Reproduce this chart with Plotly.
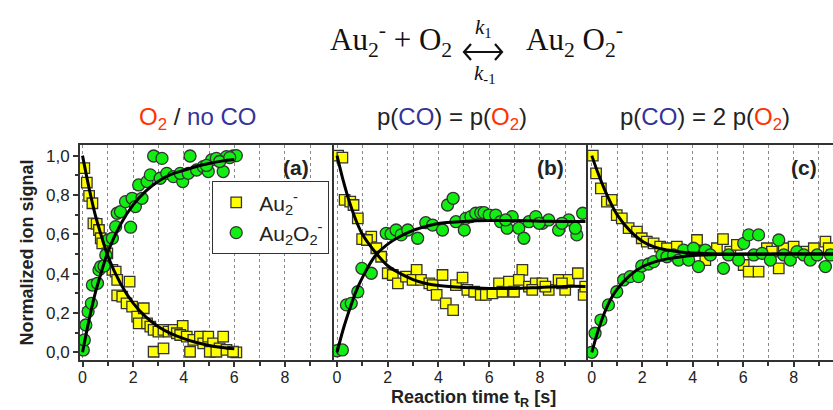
import plotly.graph_objects as go

# ---------------- data ----------------
# Panel (a): O2 / no CO
a_au2_x = [0.07,0.17,0.26,0.39,0.43,0.56,0.65,0.72,0.78,0.98,1.18,1.31,1.37,1.37,1.57,1.86,1.74,1.96,2.16,2.42,2.22,2.55,2.68,2.81,3.0,3.2,3.4,3.6,2.81,3.2,3.96,3.73,3.86,4.12,4.25,4.38,4.64,4.77,4.97,5.16,5.42,5.56,5.03,5.29,5.69,6.08,5.95]
a_au2_y = [0.936,0.863,0.795,0.758,0.656,0.653,0.622,0.58,0.554,0.503,0.419,0.41,0.368,0.29,0.283,0.359,0.249,0.232,0.181,0.224,0.147,0.147,0.131,0.114,0.105,0.114,0.105,0.114,0.003,0.02,0.134,0.097,0.088,0.08,0.003,0.063,0.08,0.046,0.08,0.046,0.02,0.08,0.003,0.003,0.012,0.0,0.003]
a_au2o2_x = [0.03,0.07,0.13,0.22,0.35,0.39,0.59,0.65,0.72,0.85,0.92,1.01,1.18,1.31,1.37,1.5,1.7,1.9,1.96,2.09,2.22,2.35,2.55,2.68,2.81,3.14,3.07,3.33,3.59,3.96,3.86,4.25,4.18,4.51,4.77,4.97,5.1,5.29,5.56,5.69,5.95,6.08,4.9,5.42,5.82]
a_au2o2_y = [0.012,0.063,0.139,0.207,0.249,0.342,0.351,0.419,0.436,0.439,0.495,0.571,0.58,0.639,0.707,0.715,0.766,0.636,0.783,0.741,0.851,0.783,0.868,0.902,0.998,0.986,0.885,0.91,0.893,0.868,0.91,0.998,0.91,0.927,0.944,0.919,0.978,0.986,0.919,0.995,0.998,1.0,0.95,0.97,0.99]
a_fit_x = [0,0.25,0.5,0.75,1.0,1.5,2.0,2.5,3.0,3.5,4.0,4.5,5.0,5.5,6.0]
a_fit_au2 = [1.0,0.84,0.70,0.59,0.49,0.35,0.25,0.18,0.13,0.095,0.07,0.05,0.035,0.025,0.018]
a_fit_au2o2 = [0.0,0.16,0.30,0.41,0.51,0.65,0.75,0.82,0.87,0.905,0.925,0.945,0.96,0.972,0.98]

# Panel (b): p(CO) = p(O2)
b_au2_x = [0.04,0.21,0.30,0.52,0.65,0.82,0.99,1.35,1.18,1.55,1.74,2.0,2.2,2.4,2.72,3.14,2.98,3.31,3.64,3.77,4.16,3.93,4.29,4.58,4.69,4.95,5.14,5.41,5.67,5.87,6.13,6.39,6.52,6.78,6.98,7.31,7.17,7.57,7.84,8.1,8.35,8.74,9.0,9.14,9.5,9.73,9.79,7.7,8.22,8.87]
b_au2_y = [1.0,0.99,0.775,0.766,0.749,0.681,0.576,0.588,0.571,0.529,0.486,0.402,0.393,0.351,0.385,0.419,0.368,0.368,0.351,0.342,0.393,0.292,0.249,0.215,0.342,0.38,0.317,0.308,0.292,0.292,0.3,0.351,0.308,0.359,0.308,0.419,0.368,0.334,0.351,0.351,0.317,0.368,0.317,0.368,0.402,0.292,0.334,0.317,0.334,0.351]
b_au2o2_x = [0.0,0.21,0.37,0.56,0.82,0.98,1.35,1.94,2.13,2.33,2.53,2.79,3.18,3.5,3.77,4.16,4.36,4.58,4.69,5.02,5.08,5.28,5.47,5.67,5.8,6.0,6.26,6.45,6.71,6.91,7.17,7.37,7.57,7.84,8.1,8.35,8.74,9.14,9.46,9.4,9.69,6.65,7.97,8.87]
b_au2o2_y = [0.008,0.012,0.241,0.249,0.308,0.427,0.402,0.605,0.602,0.622,0.597,0.622,0.58,0.659,0.647,0.622,0.749,0.783,0.664,0.622,0.681,0.69,0.707,0.71,0.71,0.698,0.698,0.664,0.631,0.69,0.631,0.58,0.664,0.69,0.656,0.673,0.622,0.673,0.597,0.631,0.707,0.673,0.656,0.656]
b_fit_x = [0,0.25,0.5,0.75,1.0,1.5,2.0,2.5,3.0,3.5,4.0,5.0,6.0,7.0,8.0,9.0,9.8]
b_fit_au2 = [1.0,0.87,0.76,0.67,0.60,0.51,0.44,0.40,0.37,0.35,0.34,0.33,0.325,0.325,0.33,0.335,0.335]
b_fit_au2o2 = [0.0,0.12,0.22,0.31,0.38,0.49,0.55,0.59,0.62,0.64,0.655,0.665,0.67,0.67,0.667,0.665,0.665]

# Panel (c): p(CO) = 2 p(O2)
c_au2_x = [0.04,0.17,0.36,0.6,0.79,0.99,1.19,1.46,1.79,1.98,2.18,2.45,2.71,2.98,3.37,3.77,4.17,4.5,4.96,5.2,5.49,5.75,6.02,6.22,6.61,6.94,7.14,7.41,7.61,8.0,8.4,8.8,9.26,9.39,9.52]
c_au2_y = [1.0,0.91,0.834,0.766,0.775,0.698,0.681,0.631,0.614,0.58,0.563,0.554,0.537,0.529,0.537,0.512,0.571,0.469,0.529,0.576,0.512,0.546,0.444,0.41,0.41,0.529,0.512,0.427,0.529,0.537,0.512,0.529,0.563,0.529,0.495]
c_au2o2_x = [0.0,0.13,0.36,0.66,0.99,1.26,1.52,1.85,1.98,2.25,2.45,2.78,2.98,3.24,3.44,3.64,3.84,4.03,4.23,4.5,4.7,5.22,5.42,5.82,6.02,6.22,6.61,6.42,6.75,7.08,7.41,7.61,7.87,8.13,8.4,8.66,8.93,9.26,9.46]
c_au2o2_y = [0.0,0.097,0.164,0.241,0.308,0.368,0.385,0.385,0.439,0.449,0.461,0.495,0.486,0.495,0.469,0.52,0.469,0.529,0.436,0.52,0.495,0.427,0.495,0.469,0.554,0.597,0.597,0.495,0.503,0.469,0.571,0.495,0.469,0.512,0.495,0.469,0.495,0.436,0.495]
c_fit_x = [0,0.25,0.5,0.75,1.0,1.5,2.0,2.5,3.0,3.5,4.0,5.0,6.0,7.0,8.0,9.0,9.6]
c_fit_au2 = [1.0,0.91,0.83,0.76,0.70,0.62,0.565,0.535,0.52,0.51,0.505,0.50,0.50,0.50,0.50,0.50,0.50]
c_fit_au2o2 = [0.0,0.11,0.20,0.27,0.32,0.39,0.435,0.46,0.475,0.485,0.492,0.497,0.498,0.499,0.5,0.5,0.5]

x_ticks = [0, 2, 4, 6, 8]
y_ticks = [0.0, 0.2, 0.4, 0.6, 0.8, 1.0]

# ---------------- styling ----------------
YELLOW = "#ffff00"
GREEN = "#11ee11"
EDGE = "#333333"
ORANGE = "#ff3300"
BLUE = "#333399"

W, H = 833, 410
ML, MR, MT, MB = 80, 0, 145, 50
PW = W - ML - MR
PH = H - MT - MB

def px(x):
    return (x - ML) / PW

def py(y):
    return (H - MB - y) / PH

fig = go.Figure()

panels = [
    ("x", "y", a_au2_x, a_au2_y, a_au2o2_x, a_au2o2_y, a_fit_x, a_fit_au2, a_fit_au2o2),
    ("x2", "y2", b_au2_x, b_au2_y, b_au2o2_x, b_au2o2_y, b_fit_x, b_fit_au2, b_fit_au2o2),
    ("x3", "y3", c_au2_x, c_au2_y, c_au2o2_x, c_au2o2_y, c_fit_x, c_fit_au2, c_fit_au2o2),
]

for i, (xa, ya, sx, sy, cx, cy, fx, f1, f2) in enumerate(panels):
    first = i == 0
    fig.add_trace(go.Scatter(
        x=sx, y=sy, mode="markers", xaxis=xa, yaxis=ya,
        name="Au<sub>2</sub><sup>-</sup>", showlegend=first, legendrank=1,
        marker=dict(symbol="square", size=10.5, color=YELLOW, line=dict(color=EDGE, width=1.3)),
    ))
    fig.add_trace(go.Scatter(
        x=cx, y=cy, mode="markers", xaxis=xa, yaxis=ya,
        name="Au<sub>2</sub>O<sub>2</sub><sup>-</sup>", showlegend=first, legendrank=2,
        marker=dict(symbol="circle", size=12, color=GREEN, line=dict(color=EDGE, width=1.3)),
    ))
    fig.add_trace(go.Scatter(
        x=fx, y=f1, mode="lines", xaxis=xa, yaxis=ya, showlegend=False,
        line=dict(color="black", width=3, shape="spline"),
    ))
    fig.add_trace(go.Scatter(
        x=fx, y=f2, mode="lines", xaxis=xa, yaxis=ya, showlegend=False,
        line=dict(color="black", width=3, shape="spline"),
    ))

doms = [(0, px(334)), (px(334), px(588)), (px(588), 1.0)]
xranges = [[-0.1, 9.94], [-0.12, 9.9], [-0.15, 9.56]]
yrange = [-0.039, 1.054]

xcommon = dict(
    showline=True, linecolor=EDGE, linewidth=2, mirror=True,
    showgrid=True, gridcolor="#888888", griddash="dot", gridwidth=1,
    tickvals=x_ticks, ticks="outside", ticklen=5, tickcolor=EDGE, tickwidth=1.5,
    tickfont=dict(family="Liberation Sans, Arial", size=16, color="#222222"),
    ticklabelstandoff=-3,
    zeroline=False,
    minor=dict(dtick=1, tick0=1, showgrid=True, gridcolor="#888888", griddash="dot",
               ticks="outside", ticklen=4, tickcolor=EDGE),
)
ycommon = dict(
    range=yrange, showline=True, linecolor=EDGE, linewidth=2, mirror=False,
    showgrid=False, zeroline=False,
)

layout = dict(
    width=W, height=H, margin=dict(l=ML, r=MR, t=MT, b=MB),
    plot_bgcolor="white", paper_bgcolor="white",
    separators=",.",
    font=dict(family="Liberation Sans, Arial", color="#222222"),
)
for i, key in enumerate(["", "2", "3"]):
    xa = dict(xcommon, domain=list(doms[i]), range=xranges[i])
    ya = dict(ycommon, domain=[0, 1])
    if i > 0:
        xa["anchor"] = "y" + key
        ya["anchor"] = "x" + key
        ya["showticklabels"] = False
        ya["ticks"] = ""
    else:
        ya.update(tickvals=y_ticks, tickformat=".1f", ticks="outside", ticklen=5,
                  tickcolor=EDGE, tickwidth=1.5,
                  tickfont=dict(family="Liberation Sans, Arial", size=17, color="#222222"),
                  minor=dict(dtick=0.1, tick0=0, ticks="outside", ticklen=3, tickcolor=EDGE),
                  title=dict(text="<b>Normalized ion signal</b>",
                             font=dict(family="Liberation Sans, Arial", size=18, color="#222222"),
                             standoff=8))
    layout["xaxis" + key] = xa
    layout["yaxis" + key] = ya

layout["legend"] = dict(
    x=px(212), y=py(181), xanchor="left", yanchor="top",
    bgcolor="white", bordercolor=EDGE, borderwidth=1.2,
    font=dict(family="Liberation Sans, Arial", size=21, color="#222222"),
    itemwidth=36, tracegroupgap=0,
)
fig.update_layout(**layout)

ann = []
# x axis title (shared)
ann.append(dict(text="<b>Reaction time t<sub>R</sub> [s]</b>", x=px(473), y=py(398),
                xref="paper", yref="paper", showarrow=False, xanchor="center", yanchor="middle",
                borderpad=0,
                font=dict(family="Liberation Sans, Arial", size=18, color="#222222")))
# panel labels
for lbl, xpx in [("(a)", 296), ("(b)", 550), ("(c)", 804)]:
    ann.append(dict(text="<b>%s</b>" % lbl, x=px(xpx), y=py(167), xref="paper", yref="paper",
                    showarrow=False, xanchor="center", yanchor="middle",
                    font=dict(family="Liberation Sans, Arial", size=21, color="#222222")))

serif = "Liberation Serif, Times New Roman, serif"
ann.append(dict(text="Au<sub>2</sub><sup>-</sup> + O<sub>2</sub>", x=px(454), y=py(40),
                xref="paper", yref="paper", showarrow=False, xanchor="right", yanchor="middle",
                font=dict(family=serif, size=31, color="#111111")))
ann.append(dict(text="Au<sub>2</sub> O<sub>2</sub><sup>-</sup>", x=px(524), y=py(40),
                xref="paper", yref="paper", showarrow=False, xanchor="left", yanchor="middle",
                font=dict(family=serif, size=31, color="#111111")))
ann.append(dict(text="<i>k</i><sub>1</sub>", x=px(483), y=py(28), xref="paper", yref="paper",
                showarrow=False, xanchor="center", yanchor="middle",
                font=dict(family=serif, size=21, color="#111111")))
ann.append(dict(text="<i>k</i><sub>-1</sub>", x=px(485), y=py(74), xref="paper", yref="paper",
                showarrow=False, xanchor="center", yanchor="middle",
                font=dict(family=serif, size=21, color="#111111")))

# double-headed reaction arrow (drawn)
ay = py(52)
arrow_path = "M {x0} {y} L {x1} {y} M {a1} {yt} L {x0} {y} L {a1} {yb} M {b1} {yt} L {x1} {y} L {b1} {yb}".format(
    x0=px(464), x1=px(502), y=ay, a1=px(471), b1=px(495), yt=py(44), yb=py(60))
fig.add_shape(type="path", path=arrow_path, xref="paper", yref="paper",
              line=dict(color="#111111", width=2.2))

sub_font = dict(family="Liberation Sans, Arial", size=24, color="#222222")
o2 = "<span style='color:%s'>O<sub>2</sub></span>" % ORANGE
co = "<span style='color:%s'>CO</span>" % BLUE
subs = [
    (o2 + " / <span style='color:%s'>no CO</span>" % BLUE, 197),
    ("p(" + co + ") = p(" + o2 + ")", 452),
    ("p(" + co + ") = 2 p(" + o2 + ")", 705),
]
for t, xc in subs:
    ann.append(dict(text=t, x=px(xc), y=py(118), xref="paper", yref="paper", showarrow=False,
                    xanchor="center", yanchor="middle", font=sub_font))

fig.update_layout(annotations=ann)
fig.write_html("out.html")
